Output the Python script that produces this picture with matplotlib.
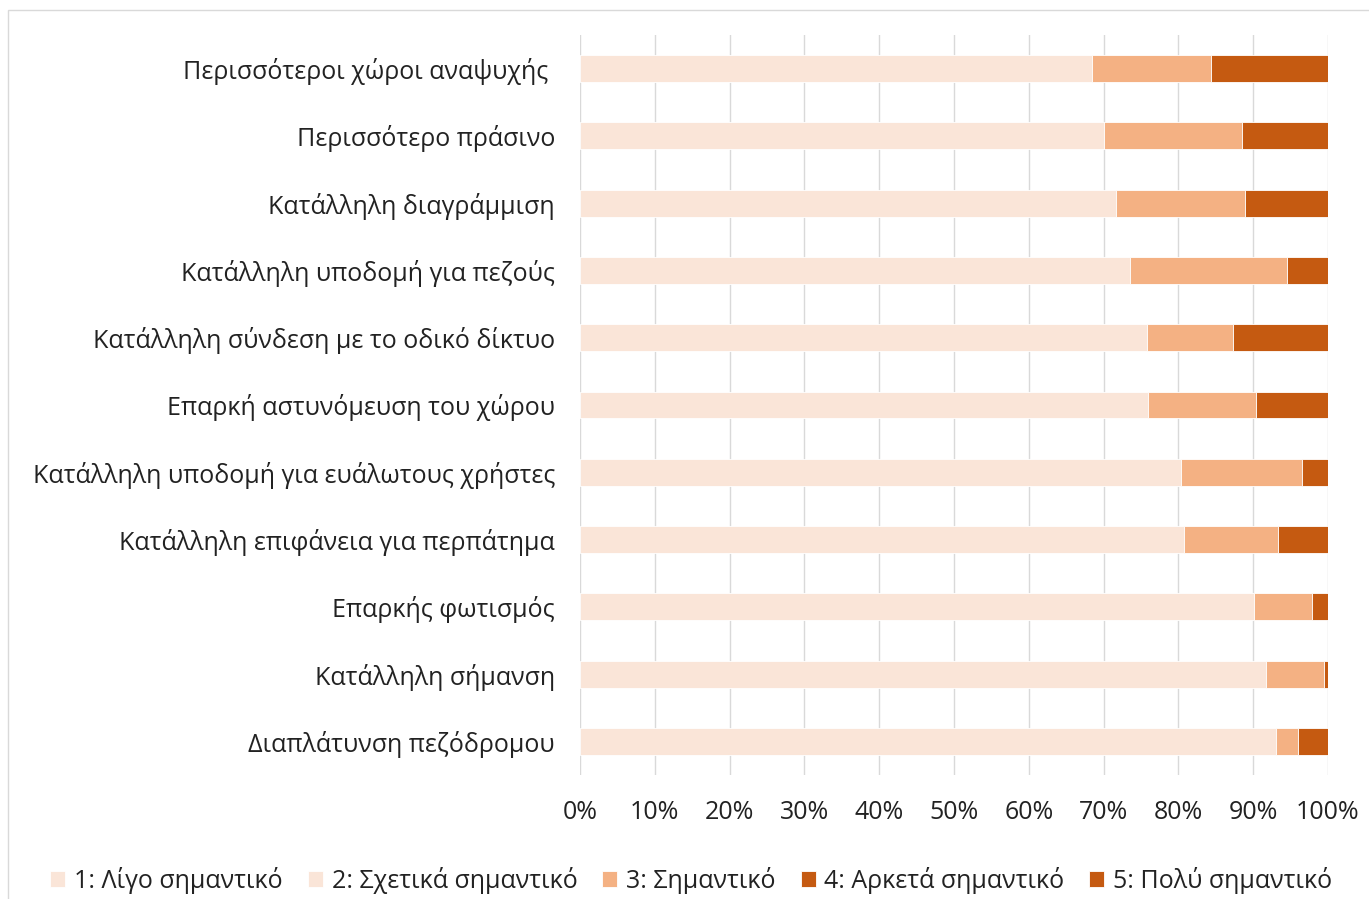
import matplotlib.pyplot as plt
from matplotlib.patches import Rectangle
from matplotlib.ticker import PercentFormatter

plt.rcParams['font.family'] = ['Open Sans', 'DejaVu Sans']

categories = [
    'Περισσότεροι χώροι αναψυχής ',
    'Περισσότερο πράσινο',
    'Κατάλληλη διαγράμμιση',
    'Κατάλληλη υποδομή για πεζούς',
    'Κατάλληλη σύνδεση με το οδικό δίκτυο',
    'Επαρκή αστυνόμευση του χώρου',
    'Κατάλληλη υποδομή για ευάλωτους χρήστες',
    'Κατάλληλη επιφάνεια για περπάτημα',
    'Επαρκής φωτισμός',
    'Κατάλληλη σήμανση',
    'Διαπλάτυνση πεζόδρομου',
]
series_names = ['1: Λίγο σημαντικό', '2: Σχετικά σημαντικό', '3: Σημαντικό',
                '4: Αρκετά σημαντικό', '5: Πολύ σημαντικό']
# percentages per answer level (levels 2 and 4 not distinguishable in the picture)
lvl1 = [68.4, 70.1, 71.7, 73.5, 75.8, 75.9, 80.3, 80.7, 90.1, 91.7, 93.0]
lvl2 = [0, 0, 0, 0, 0, 0, 0, 0, 0, 0, 0]
lvl3 = [16.0, 18.4, 17.2, 21.0, 11.5, 14.5, 16.2, 12.6, 7.8, 7.8, 3.0]
lvl4 = [0, 0, 0, 0, 0, 0, 0, 0, 0, 0, 0]
lvl5 = [15.6, 11.5, 11.1, 5.5, 12.7, 9.6, 3.5, 6.7, 2.1, 0.5, 4.0]

colors = ['#FAE5D8', '#FAE5D8', '#F4B183', '#C55A11', '#C55A11']

fig = plt.figure(figsize=(13.69, 8.99), dpi=100)
ax = fig.add_axes([580 / 1369, 1 - 775 / 899, 748 / 1369, 740 / 899])

y = list(range(len(categories)))
left = [0.0] * len(categories)
for name, vals, col in zip(series_names, [lvl1, lvl2, lvl3, lvl4, lvl5], colors):
    ax.barh(y, vals, left=left, height=0.4, color=col, edgecolor='white',
            linewidth=0.6, label=name, zorder=3)
    left = [a + b for a, b in zip(left, vals)]

ax.set_ylim(len(categories) - 0.5, -0.5)
ax.set_xlim(0, 100)
ax.set_yticks(y)
ax.set_yticklabels(categories, fontsize=18, color='#222222')
ax.set_xticks(range(0, 101, 10))
ax.xaxis.set_major_formatter(PercentFormatter(decimals=0))
ax.tick_params(axis='x', labelsize=18, colors='#222222', length=0, pad=18)
ax.tick_params(axis='y', length=0, pad=18)
ax.grid(axis='x', color='#D9D9D9', linewidth=1, zorder=0)
for s in ax.spines.values():
    s.set_visible(False)

leg = fig.legend(loc='center', bbox_to_anchor=(0.505, 1 - 880 / 899), ncol=5,
                 frameon=False, fontsize=18, handlelength=0.6, handleheight=0.6,
                 handletextpad=0.35, columnspacing=1.0)
for t in leg.get_texts():
    t.set_color('#222222')

fig.patches.append(Rectangle((8 / 1369, -0.01), 1.1, 1 - 10 / 899 + 0.01,
                             transform=fig.transFigure, fill=False,
                             edgecolor='#D9D9D9', linewidth=1))

fig.savefig('out.png', dpi=100)
